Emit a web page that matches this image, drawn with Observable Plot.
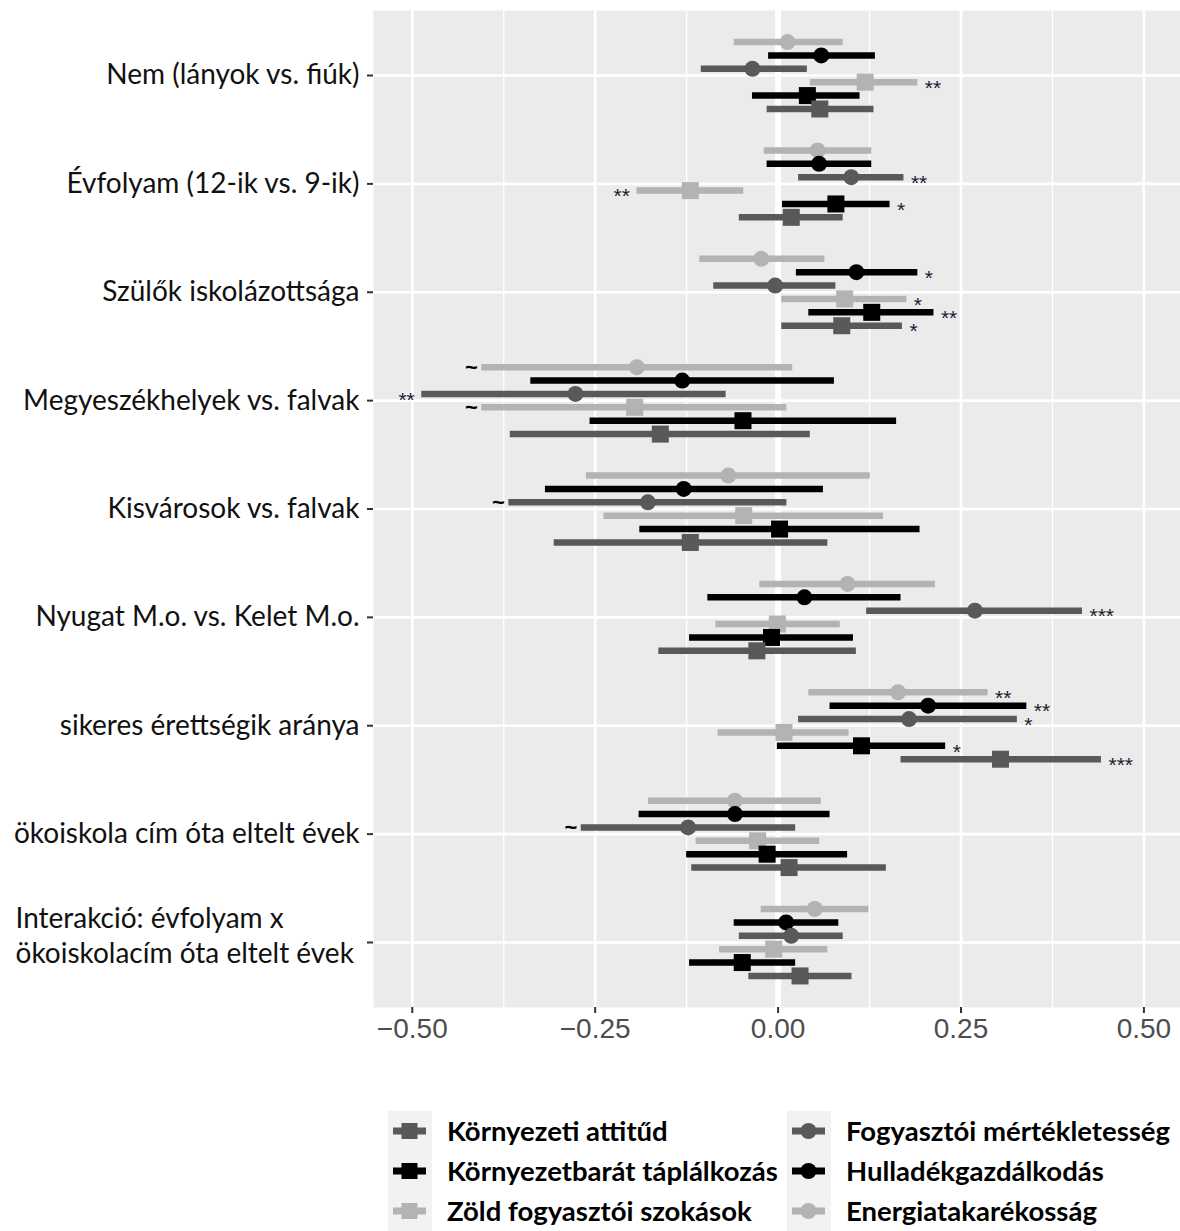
<!DOCTYPE html>
<html>
<head>
<meta charset="utf-8">
<script src="https://cdn.jsdelivr.net/npm/d3@7"></script>
<script src="https://cdn.jsdelivr.net/npm/@observablehq/plot@0.6"></script>
<style>
  body { margin: 0; background: #fff; }
  #chart { width: 1180px; }
  .legend { display: flex; padding-left: 388px; padding-top: 51px; height: 120px; overflow: hidden; }
  .group { display: flex; }
  .keys { background: #f2f2f2; width: 44px; }
  .keys svg { display: block; }
  .labels { margin-left: 15px; font-family: Lato, "Open Sans", sans-serif; font-weight: 700; font-size: 27.5px; color: #000; }
  .labels div { height: 40px; line-height: 40px; white-space: nowrap; }
  .group.left .labels { width: 340px; }
</style>
</head>
<body>
<div id="chart"></div>
<script>
// Predictors (top to bottom)
const categories = [
  "Nem (lányok vs. fiúk)",
  "Évfolyam (12-ik vs. 9-ik)",
  "Szülők iskolázottsága",
  "Megyeszékhelyek vs. falvak",
  "Kisvárosok vs. falvak",
  "Nyugat M.o. vs. Kelet M.o.",
  "sikeres érettségik aránya",
  "ökoiskola cím óta eltelt évek",
  "Interakció: évfolyam x\nökoiskolacím óta eltelt évek"
];

// Outcome scales, in the order they are stacked within each predictor
const seriesNames = [
  "Energiatakarékosság",
  "Hulladékgazdálkodás",
  "Fogyasztói mértékletesség",
  "Zöld fogyasztói szokások",
  "Környezetbarát táplálkozás",
  "Környezeti attitűd"
];

// Estimates with 95% intervals and significance marks, one value per predictor
const energiaEst = [0.013, 0.054, -0.023, -0.193, -0.068, 0.095, 0.164, -0.059, 0.050];
const energiaLo  = [-0.060, -0.019, -0.107, -0.405, -0.262, -0.025, 0.042, -0.177, -0.023];
const energiaHi  = [0.089, 0.128, 0.064, 0.020, 0.126, 0.215, 0.287, 0.059, 0.124];
const energiaSig = ["", "", "", "~", "", "", "**", "", ""];

const hulladekEst = [0.059, 0.056, 0.107, -0.131, -0.129, 0.036, 0.205, -0.059, 0.011];
const hulladekLo  = [-0.013, -0.015, 0.025, -0.338, -0.318, -0.096, 0.071, -0.190, -0.060];
const hulladekHi  = [0.133, 0.128, 0.191, 0.077, 0.062, 0.168, 0.340, 0.071, 0.083];
const hulladekSig = ["", "", "*", "", "", "", "**", "", ""];

const fogyasztoiEst = [-0.035, 0.100, -0.004, -0.277, -0.178, 0.269, 0.179, -0.123, 0.018];
const fogyasztoiLo  = [-0.105, 0.028, -0.088, -0.487, -0.368, 0.121, 0.028, -0.269, -0.053];
const fogyasztoiHi  = [0.040, 0.172, 0.079, -0.071, 0.012, 0.416, 0.327, 0.024, 0.089];
const fogyasztoiSig = ["", "**", "", "**", "~", "***", "*", "~", ""];

const zoldEst = [0.119, -0.120, 0.091, -0.196, -0.047, -0.001, 0.008, -0.028, -0.006];
const zoldLo  = [0.044, -0.193, 0.005, -0.405, -0.238, -0.085, -0.082, -0.112, -0.080];
const zoldHi  = [0.191, -0.047, 0.176, 0.012, 0.144, 0.085, 0.097, 0.057, 0.068];
const zoldSig = ["**", "**", "*", "~", "", "", "", "", ""];

const taplalkozasEst = [0.040, 0.079, 0.128, -0.048, 0.002, -0.009, 0.114, -0.015, -0.049];
const taplalkozasLo  = [-0.035, 0.006, 0.042, -0.257, -0.189, -0.121, -0.001, -0.125, -0.121];
const taplalkozasHi  = [0.112, 0.153, 0.213, 0.162, 0.194, 0.103, 0.229, 0.095, 0.024];
const taplalkozasSig = ["", "*", "**", "", "", "", "*", "", ""];

const attitudEst = [0.057, 0.018, 0.087, -0.161, -0.120, -0.029, 0.304, 0.015, 0.030];
const attitudLo  = [-0.015, -0.053, 0.005, -0.366, -0.306, -0.163, 0.168, -0.118, -0.040];
const attitudHi  = [0.131, 0.089, 0.170, 0.044, 0.068, 0.107, 0.442, 0.148, 0.101];
const attitudSig = ["", "", "*", "", "", "", "***", "", ""];

const xTicks = [-0.5, -0.25, 0, 0.25, 0.5];

// Styling per outcome
const colorOf = {
  "Energiatakarékosság": "#b3b3b3",
  "Hulladékgazdálkodás": "#000000",
  "Fogyasztói mértékletesség": "#595959",
  "Zöld fogyasztói szokások": "#b3b3b3",
  "Környezetbarát táplálkozás": "#000000",
  "Környezeti attitűd": "#595959"
};
const circleSeries = new Set(["Energiatakarékosság", "Hulladékgazdálkodás", "Fogyasztói mértékletesség"]);

const seriesData = [
  [energiaEst, energiaLo, energiaHi, energiaSig],
  [hulladekEst, hulladekLo, hulladekHi, hulladekSig],
  [fogyasztoiEst, fogyasztoiLo, fogyasztoiHi, fogyasztoiSig],
  [zoldEst, zoldLo, zoldHi, zoldSig],
  [taplalkozasEst, taplalkozasLo, taplalkozasHi, taplalkozasSig],
  [attitudEst, attitudLo, attitudHi, attitudSig]
];

// Dodge the six outcomes around each predictor row
const dodgeStep = 0.1235;
const rows = [];
seriesData.forEach(([est, lo, hi, sig], j) => {
  const name = seriesNames[j];
  categories.forEach((c, i) => {
    rows.push({
      name, i,
      y: i + (j - (seriesNames.length - 1) / 2) * dodgeStep,
      est: est[i], lo: lo[i], hi: hi[i], sig: sig[i],
      color: colorOf[name],
      circle: circleSeries.has(name)
    });
  });
});

const starsRight = rows.filter(d => d.sig && d.sig !== "~" && d.est >= 0);
const starsLeft = rows.filter(d => d.sig && d.sig !== "~" && d.est < 0);
const tildes = rows.filter(d => d.sig === "~");

const labelFont = "Lato, 'Open Sans', sans-serif";

const chart = Plot.plot({
  width: 1180,
  height: 1060,
  marginLeft: 373,
  marginRight: 0,
  marginTop: 10,
  marginBottom: 53,
  style: {background: "#fff", fontFamily: "'Liberation Sans', Arial, sans-serif"},
  x: {domain: [-0.553, 0.550], label: null},
  y: {domain: [-0.6, categories.length - 0.4], reverse: true, label: null},
  marks: [
    Plot.frame({fill: "#ebebeb", stroke: null}),
    Plot.gridX([-0.375, -0.125, 0.125, 0.375], {stroke: "#fff", strokeOpacity: 1, strokeWidth: 1.3}),
    Plot.gridX(xTicks.filter(t => t !== 0), {stroke: "#fff", strokeOpacity: 1, strokeWidth: 2.6}),
    Plot.gridY(d3.range(categories.length), {stroke: "#fff", strokeOpacity: 1, strokeWidth: 2.6}),
    Plot.ruleX([0], {stroke: "#fff", strokeWidth: 6}),
    Plot.axisX(xTicks, {
      tickSize: 6, tickPadding: 5, tickFormat: d3.format(".2f"),
      fontSize: 28, fill: "#4d4d4d", stroke: "#333", strokeWidth: 2, label: null
    }),
    Plot.axisY(d3.range(categories.length), {
      tickSize: 6, tickPadding: 8, stroke: "#333", strokeWidth: 2,
      tickFormat: i => categories[i].includes("\n") ? "" : categories[i],
      fontSize: 28, fontFamily: labelFont, fill: "#111", label: null
    }),
    // The two-line predictor label is set flush left
    Plot.text(d3.range(categories.length).filter(i => categories[i].includes("\n")), {
      y: d => d, text: d => categories[d], frameAnchor: "left", textAnchor: "start",
      dx: -358, dy: -8, lineHeight: 1.24, fontSize: 28, fontFamily: labelFont, fill: "#111"
    }),
    Plot.ruleY(rows, {y: "y", x1: "lo", x2: "hi", stroke: "color", strokeWidth: 6.5}),
    Plot.dot(rows.filter(d => d.circle), {x: "est", y: "y", r: 8, fill: "color", stroke: null, symbol: "circle"}),
    Plot.dot(rows.filter(d => !d.circle), {x: "est", y: "y", r: 9.6, fill: "color", stroke: null, symbol: "square"}),
    Plot.text(starsRight, {x: "hi", y: "y", text: "sig", textAnchor: "start", dx: 7, dy: 6, fontSize: 21, fill: "#1c1c30"}),
    Plot.text(starsLeft, {x: "lo", y: "y", text: "sig", textAnchor: "end", dx: -7, dy: 6, fontSize: 21, fill: "#1c1c30"}),
    Plot.text(tildes, {x: "lo", y: "y", text: "sig", textAnchor: "end", dx: -4, dy: 1, fontSize: 22, fontWeight: 700, fill: "#000"})
  ]
});

document.getElementById("chart").appendChild(chart);

// Legend: squares for the first block of outcomes, circles for the second
function keySvg(name) {
  const ns = "http://www.w3.org/2000/svg";
  const svg = document.createElementNS(ns, "svg");
  svg.setAttribute("width", 44);
  svg.setAttribute("height", 40);
  const c = colorOf[name];
  const line = document.createElementNS(ns, "line");
  line.setAttribute("x1", 5); line.setAttribute("x2", 38);
  line.setAttribute("y1", 20); line.setAttribute("y2", 20);
  line.setAttribute("stroke", c); line.setAttribute("stroke-width", 7);
  svg.appendChild(line);
  let sym;
  if (circleSeries.has(name)) {
    sym = document.createElementNS(ns, "circle");
    sym.setAttribute("cx", 21.5); sym.setAttribute("cy", 20); sym.setAttribute("r", 8);
  } else {
    sym = document.createElementNS(ns, "rect");
    sym.setAttribute("x", 13.5); sym.setAttribute("y", 12); sym.setAttribute("width", 16); sym.setAttribute("height", 16);
  }
  sym.setAttribute("fill", c);
  svg.appendChild(sym);
  return svg;
}

const legendGroups = [
  ["Környezeti attitűd", "Környezetbarát táplálkozás", "Zöld fogyasztói szokások"],
  ["Fogyasztói mértékletesség", "Hulladékgazdálkodás", "Energiatakarékosság"]
];
const legend = document.createElement("div");
legend.className = "legend";
legendGroups.forEach((names, g) => {
  const group = document.createElement("div");
  group.className = "group " + (g === 0 ? "left" : "right");
  const keys = document.createElement("div");
  keys.className = "keys";
  const labels = document.createElement("div");
  labels.className = "labels";
  names.forEach(n => {
    keys.appendChild(keySvg(n));
    const t = document.createElement("div");
    t.textContent = n;
    labels.appendChild(t);
  });
  group.appendChild(keys);
  group.appendChild(labels);
  legend.appendChild(group);
});
document.getElementById("chart").appendChild(legend);
</script>
</body>
</html>
